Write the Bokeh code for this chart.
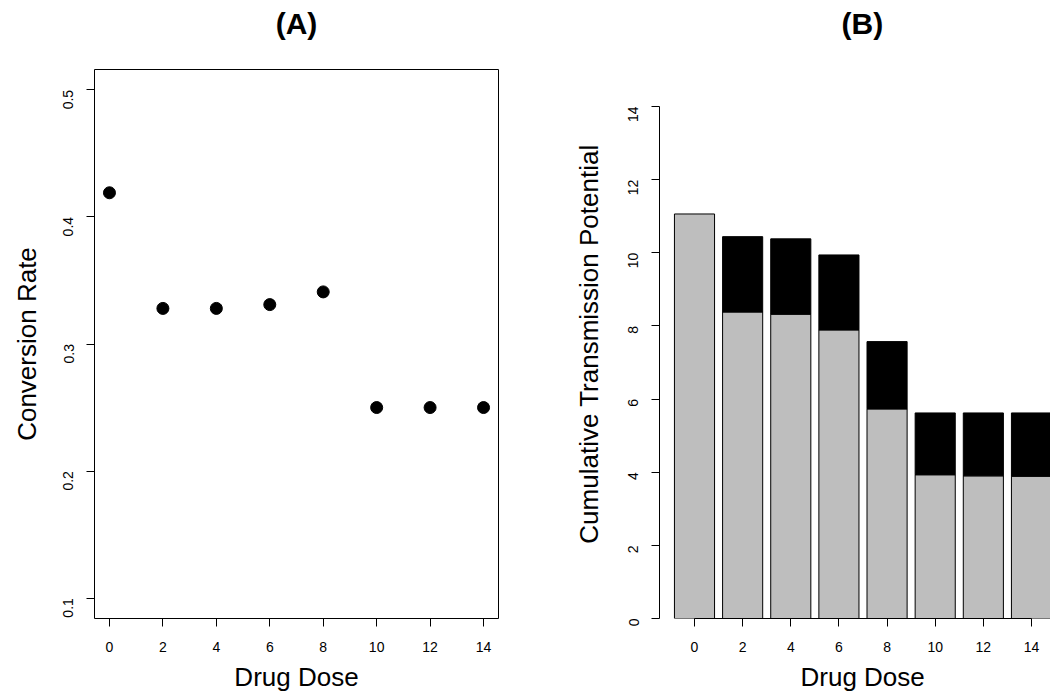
import math
from bokeh.plotting import figure
from bokeh.models import FixedTicker, Range1d, ColumnDataSource, Title
from bokeh.layouts import row
from bokeh.embed import file_html
from bokeh.resources import INLINE

# ---------------- data ----------------
doses = [0, 2, 4, 6, 8, 10, 12, 14]
conversion_rate = [0.419, 0.328, 0.328, 0.331, 0.341, 0.250, 0.250, 0.250]
base_potential = [11.06, 8.38, 8.32, 7.89, 5.73, 3.93, 3.90, 3.89]
added_potential = [0.00, 2.06, 2.06, 2.05, 1.84, 1.69, 1.72, 1.73]
rate_ticks = [0.1, 0.2, 0.3, 0.4, 0.5]
potential_ticks = [0, 2, 4, 6, 8, 10, 12, 14]

FONT = "Liberation Sans"
TICK_SIZE = "14px"
LAB_SIZE = "26px"
TITLE_SIZE = "30px"


def style_axes(p):
    for ax in (p.xaxis[0], p.yaxis[0]):
        ax.axis_line_color = "black"
        ax.axis_line_width = 1
        ax.major_tick_line_color = "black"
        ax.major_tick_out = 8
        ax.major_tick_in = 0
        ax.minor_tick_line_color = None
        ax.major_label_text_font = FONT
        ax.major_label_text_font_size = TICK_SIZE
        ax.major_label_text_color = "black"
    p.xaxis[0].major_label_standoff = 15
    p.yaxis[0].major_label_standoff = 18
    p.yaxis[0].major_label_orientation = math.pi / 2
    p.xgrid.grid_line_color = None
    p.ygrid.grid_line_color = None


def text_title(text, size, align="center", offset=0, standoff=10, bold=False,
               valign="bottom"):
    return Title(text=text, text_font=FONT, text_font_size=size,
                 text_font_style="bold" if bold else "normal", text_color="black",
                 align=align, offset=offset, standoff=standoff, vertical_align=valign)


def spacer(gap):
    return Title(text=" ", text_font=FONT, text_font_size="1px", standoff=gap)


# ---------------- panel A ----------------
pA = figure(width=525, height=698, output_backend="svg", toolbar_location=None,
            title=None,
            x_range=Range1d(-0.56, 14.56), y_range=Range1d(0.084, 0.516),
            min_border_left=92, min_border_right=27, min_border_top=69,
            min_border_bottom=80)
pA.outline_line_color = "black"
pA.outline_line_width = 1
pA.background_fill_color = "white"
pA.border_fill_color = "white"
style_axes(pA)
pA.xaxis[0].ticker = FixedTicker(ticks=doses)
pA.yaxis[0].ticker = FixedTicker(ticks=rate_ticks)
pA.xaxis[0].bounds = (0, 14)
pA.yaxis[0].bounds = (0.1, 0.5)

srcA = ColumnDataSource(dict(dose=doses, rate=conversion_rate))
pA.scatter(x="dose", y="rate", source=srcA, size=12, color="black")

pA.add_layout(spacer(20), "above")
pA.add_layout(text_title("(A)", TITLE_SIZE, standoff=9, bold=True, valign="top"), "above")
pA.add_layout(text_title("Drug Dose", LAB_SIZE, standoff=10), "below")
pA.add_layout(text_title("Conversion Rate", LAB_SIZE, standoff=23, valign="top"), "left")

# ---------------- panel B ----------------
bar_w = 2 / 1.2
top_potential = [b + a for b, a in zip(base_potential, added_potential)]
pB = figure(width=525, height=698, output_backend="svg", toolbar_location=None,
            title=None,
            x_range=Range1d(-1.454, 14.79), y_range=Range1d(0, 15.01),
            min_border_left=134, min_border_right=0, min_border_top=69,
            min_border_bottom=80)
pB.outline_line_color = None
pB.background_fill_color = "white"
pB.border_fill_color = "white"
style_axes(pB)
pB.xaxis[0].ticker = FixedTicker(ticks=doses)
pB.yaxis[0].ticker = FixedTicker(ticks=potential_ticks)
pB.xaxis[0].bounds = (0, 14)
pB.yaxis[0].bounds = (0, 14)

srcB = ColumnDataSource(dict(dose=doses, base=base_potential, top=top_potential,
                             added=added_potential))
pB.vbar(x="dose", bottom=0, top="base", width=bar_w, source=srcB,
        fill_color="#BEBEBE", line_color="black", line_width=1)
keep = [i for i, a in enumerate(added_potential) if a > 0]
srcB2 = ColumnDataSource(dict(dose=[doses[i] for i in keep],
                              base=[base_potential[i] for i in keep],
                              top=[top_potential[i] for i in keep]))
pB.vbar(x="dose", bottom="base", top="top", width=bar_w, source=srcB2,
        fill_color="black", line_color="black", line_width=1)

pB.add_layout(spacer(20), "above")
pB.add_layout(text_title("(B)", TITLE_SIZE, align="left", offset=182, standoff=9,
                         bold=True, valign="top"), "above")
pB.add_layout(text_title("Drug Dose", LAB_SIZE, align="left", offset=141, standoff=10),
              "below")
pB.add_layout(text_title("Cumulative Transmission Potential", LAB_SIZE, standoff=34),
              "left")

layout = row(pA, pB)
open("out.html", "w").write(file_html(layout, INLINE))
